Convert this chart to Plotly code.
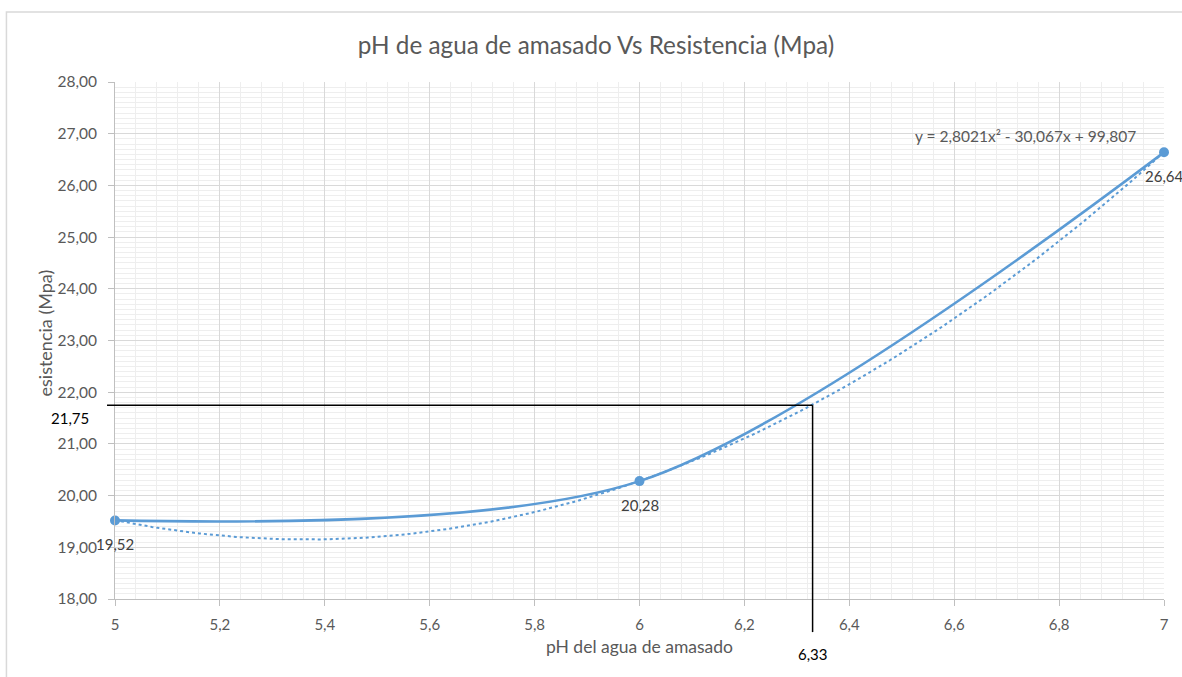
import numpy as np
import plotly.graph_objects as go

# Measured data: mixing-water pH vs compressive strength
ph_values = [5, 6, 7]
strength_mpa = [19.52, 20.28, 26.64]

# Second-order polynomial trendline coefficients (a, b, c) for y = a x^2 + b x + c
trend_coefs = [2.8021, -30.067, 99.807]

# Reading taken off the curve
read_ph = 6.33
read_strength = 21.75

x_ticks = [5, 5.2, 5.4, 5.6, 5.8, 6, 6.2, 6.4, 6.6, 6.8, 7]
y_ticks = [18, 19, 20, 21, 22, 23, 24, 25, 26, 27, 28]

BLUE = "#5b9bd5"
GREY_TXT = "#595959"
FONT = "Lato"

x_min, x_max = 5, 7
y_min, y_max = 18, 28


def comma(v, nd=2):
    return f"{v:.{nd}f}".replace(".", ",")


fig = go.Figure()

# Trendline evaluated from its stated equation
tx = np.linspace(x_min, x_max, 200)
ty = np.polyval(trend_coefs, tx)
fig.add_trace(go.Scatter(
    x=tx, y=ty, mode="lines",
    line=dict(color=BLUE, width=2, dash="dot"),
    hoverinfo="skip", showlegend=False, cliponaxis=False,
))

# Smoothed data series with markers
fig.add_trace(go.Scatter(
    x=ph_values, y=strength_mpa, mode="lines+markers",
    line=dict(color=BLUE, width=2.6, shape="spline", smoothing=0.85),
    marker=dict(color=BLUE, size=10),
    showlegend=False, cliponaxis=False,
))

annotations = []
# Data labels below each point
for xv, yv in zip(ph_values, strength_mpa):
    annotations.append(dict(
        x=xv, y=yv, xref="x", yref="y", text=comma(yv),
        showarrow=False, yshift=-24,
        font=dict(family=FONT, size=15, color="#404040"),
    ))

# Trendline equation
a, b, c = trend_coefs
eq_text = f"y = {comma(a, 4)}x² - {comma(abs(b), 3)}x + {comma(c, 3)}"
annotations.append(dict(
    x=6.95, y=26.95, xref="x", yref="y", text=eq_text,
    showarrow=False, xanchor="right", yanchor="middle",
    font=dict(family=FONT, size=15.5, color=GREY_TXT),
))

# Axis title for y, placed beside the tick labels
annotations.append(dict(
    x=-0.067, y=0.515, xref="paper", yref="paper", text="esistencia (Mpa)",
    showarrow=False, textangle=-90, xanchor="center", yanchor="middle",
    font=dict(family=FONT, size=18, color=GREY_TXT),
))

# Reading labels
annotations.append(dict(
    x=-0.043, y=read_strength, xref="paper", yref="y", text=comma(read_strength),
    showarrow=False, xanchor="center", yanchor="middle", yshift=-13,
    font=dict(family=FONT, size=15, color="#000000"),
))
annotations.append(dict(
    x=read_ph, y=-0.106, xref="x", yref="paper", text=comma(read_ph),
    showarrow=False, xanchor="center", yanchor="middle",
    font=dict(family=FONT, size=15, color="#000000"),
))

read_x_paper = (read_ph - x_min) / (x_max - x_min)
read_y_paper = (read_strength - y_min) / (y_max - y_min)

shapes = [
    # chart border
    dict(type="rect", xref="paper", yref="paper",
         x0=-0.1035, x1=1.2, y0=-0.3, y1=1.1354,
         line=dict(color="#d9d9d9", width=1.5), layer="below"),
    # horizontal reading line
    dict(type="line", xref="paper", yref="y",
         x0=-0.0076, x1=read_x_paper, y0=read_strength, y1=read_strength,
         line=dict(color="#000000", width=1.5), layer="above"),
    # vertical reading line
    dict(type="line", xref="x", yref="paper",
         x0=read_ph, x1=read_ph, y0=read_y_paper, y1=-0.064,
         line=dict(color="#000000", width=1.5), layer="above"),
]

fig.update_layout(
    width=1182, height=677,
    margin=dict(l=115, r=18, t=82, b=78),
    paper_bgcolor="white", plot_bgcolor="white",
    separators=",.",
    title=dict(text="pH de agua de amasado Vs Resistencia (Mpa)",
               x=0.4585, xref="paper", y=0.933, yanchor="middle", xanchor="center",
               font=dict(family=FONT, size=24.3, color=GREY_TXT)),
    font=dict(family=FONT, color=GREY_TXT),
    annotations=annotations,
    shapes=shapes,
)

fig.update_xaxes(
    range=[x_min, x_max], tickvals=x_ticks, ticktext=[comma(v, 1).rstrip("0").rstrip(",") for v in x_ticks],
    showgrid=True, gridcolor="#d9d9d9", gridwidth=1,
    minor=dict(dtick=0.04, showgrid=True, gridcolor="#eeeeee", gridwidth=1),
    showline=True, linecolor="#bfbfbf", linewidth=1,
    ticks="outside", ticklen=6, tickcolor="#bfbfbf",
    ticklabelstandoff=6,
    tickfont=dict(family=FONT, size=15, color=GREY_TXT),
    zeroline=False,
    title=dict(text="pH del agua de amasado", standoff=8,
               font=dict(family=FONT, size=17.5, color=GREY_TXT)),
)
fig.update_yaxes(
    range=[y_min, y_max], tickvals=y_ticks, ticktext=[comma(v) for v in y_ticks],
    showgrid=True, gridcolor="#d9d9d9", gridwidth=1,
    minor=dict(dtick=0.1, showgrid=True, gridcolor="#eeeeee", gridwidth=1),
    showline=True, linecolor="#bfbfbf", linewidth=1,
    ticks="outside", ticklen=6, tickcolor="#bfbfbf",
    ticklabelstandoff=8,
    tickfont=dict(family=FONT, size=15.5, color=GREY_TXT),
    zeroline=False,
)

fig.write_html("out.html")
